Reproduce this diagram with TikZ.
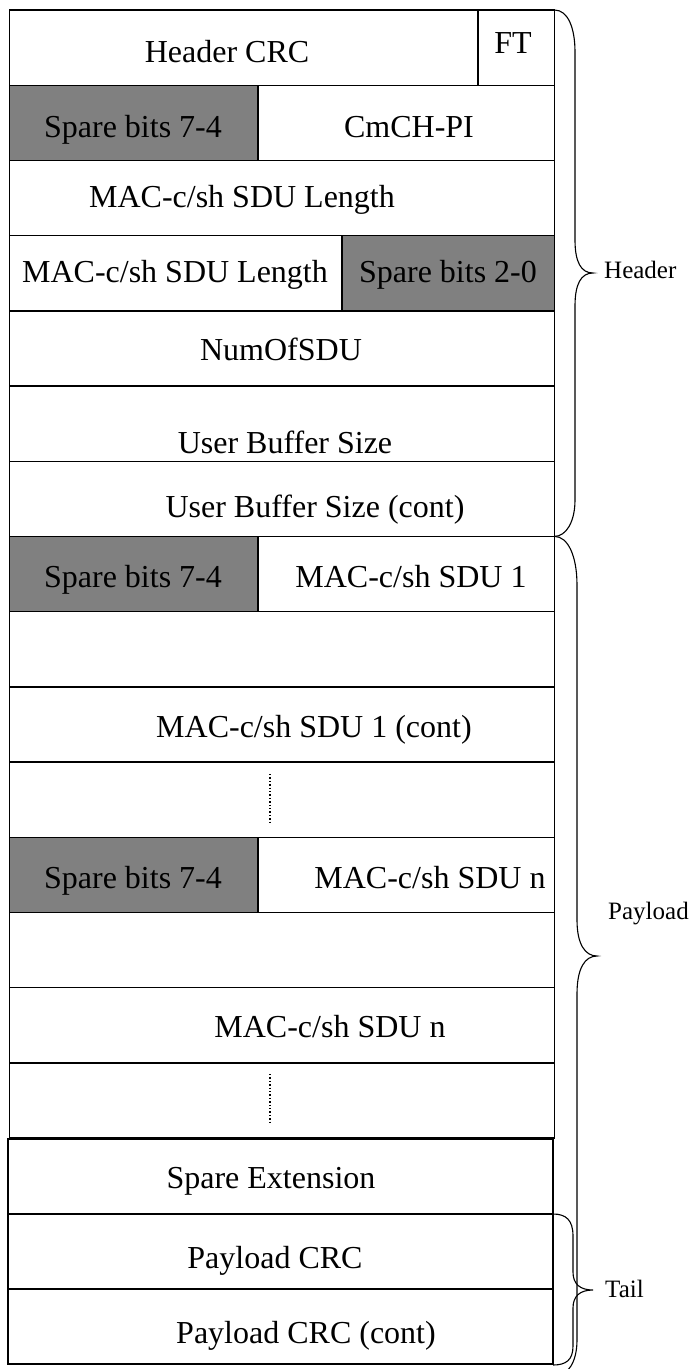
\documentclass[tikz,border=0pt]{standalone}
\usepackage{fontspec}
\setmainfont{Liberation Serif}
\begin{document}
\begin{tikzpicture}[x=1pt,y=-1pt,
  box/.style={line width=1.4pt,draw=black},
  spare/.style={line width=1.4pt,draw=black,fill=black!50},
  txt/.style={anchor=base,inner sep=0pt,font=\fontsize{32}{38}\selectfont},
  side/.style={anchor=base west,inner sep=0pt,font=\fontsize{25}{30}\selectfont},
  brace/.style={line width=1.1pt,draw=black},
  dots/.style={line width=1.2pt,dash pattern=on 1.3pt off 2.1pt}]
\useasboundingbox (0,0) rectangle (696,1369);
% ---- upper frame rows
\foreach \i in {0,...,14}{
  \draw[box] (9.5,{10+75.2*\i}) rectangle (554.5,{10+75.2*(\i+1)});
}
% grey spare fields
\draw[spare] (9.5,85.2) rectangle (258,160.4);
\draw[spare] (342,235.6) rectangle (554.5,310.8);
\draw[spare] (9.5,536.4) rectangle (258,611.6);
\draw[spare] (9.5,837.2) rectangle (258,912.4);
% FT divider
\draw[line width=1.1pt] (478,10) -- (478,85.2);
% ---- lower frame rows
\draw[box] (8,1139) rectangle (553,1214);
\draw[box] (8,1214) rectangle (553,1289);
\draw[box] (8,1289) rectangle (553,1364);
% ---- texts
\node[txt] (hcrc) at (227,62) {Header CRC};
\node[txt] (ft) at (513,53) {FT};
\node[txt] (sp1) at (133,137) {Spare bits 7-4};
\node[txt] (cmch) at (409,137) {CmCH-PI};
\node[txt] (len1) at (242,207) {MAC-c/sh SDU Length};
\node[txt] (len2) at (175,282) {MAC-c/sh SDU Length};
\node[txt] (sp2) at (448,282) {Spare bits 2-0};
\node[txt] (num) at (281,360) {NumOfSDU};
\node[txt] (ubs) at (285,453) {User Buffer Size};
\node[txt] (ubsc) at (315,517) {User Buffer Size (cont)};
\node[txt] (sp3) at (133,587) {Spare bits 7-4};
\node[txt] (sdu1) at (411,587) {MAC-c/sh SDU 1};
\node[txt] (sdu1c) at (314,737) {MAC-c/sh SDU 1 (cont)};
\node[txt] (sp4) at (133,888) {Spare bits 7-4};
\node[txt] (sdun) at (430,888) {MAC-c/sh SDU n};
\node[txt] (sdun2) at (330,1037) {MAC-c/sh SDU n};
\node[txt] (spext) at (271,1188) {Spare Extension};
\node[txt] (pcrc) at (275,1268) {Payload CRC};
\node[txt] (pcrcc) at (306,1343) {Payload CRC (cont)};
% dotted continuation marks
\coordinate (d1a) at (270,774); \coordinate (d1b) at (270,823);
\coordinate (d2a) at (270,1074); \coordinate (d2b) at (270,1123);
\draw[dots] (d1a) -- (d1b);
\draw[dots] (d2a) -- (d2b);
% ---- side labels
\node[side] (lhead) at (604,278) {Header};
\node[side] (lpay) at (608,919) {Payload};
\node[side] (ltail) at (605,1297) {Tail};
% ---- braces
\coordinate (hb1) at (554.5,10); \coordinate (htip) at (593,273); \coordinate (hb2) at (554.5,536.4);
\draw[brace] (hb1) .. controls (568,10) and (575,28) .. (575,52)
  -- (575,240) .. controls (575,262) and (581,273) .. (htip)
  .. controls (581,273) and (575,284) .. (575,306)
  -- (575,500) .. controls (575,522) and (566,536.4) .. (hb2);
\coordinate (pb1) at (554.5,536.4); \coordinate (ptip) at (597,956); \coordinate (pb2) at (554.5,1376);
\draw[brace] (pb1) .. controls (568,536.4) and (577,556) .. (577,585)
  -- (577,920) .. controls (577,944) and (585,956) .. (ptip)
  .. controls (585,956) and (577,968) .. (577,994)
  -- (577,1340) .. controls (577,1362) and (568,1376) .. (pb2);
\coordinate (tb1) at (553,1214); \coordinate (ttip) at (593,1290); \coordinate (tb2) at (553,1365);
\draw[brace] (tb1) .. controls (566,1214) and (573,1220) .. (573,1236)
  -- (573,1272) .. controls (573,1284) and (580,1290) .. (ttip)
  .. controls (580,1290) and (573,1296) .. (573,1308)
  -- (573,1346) .. controls (573,1360) and (566,1365) .. (tb2);
\end{tikzpicture}
\end{document}
